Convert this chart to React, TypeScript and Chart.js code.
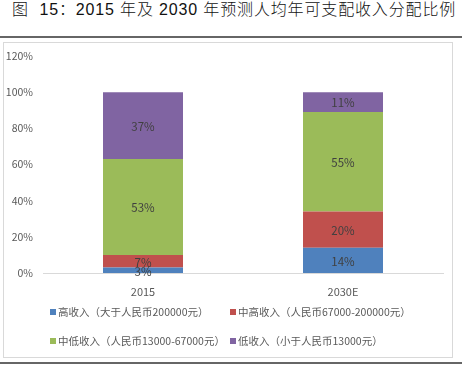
import React, { useEffect, useRef } from "react";
import { Chart, registerables } from "chart.js";

Chart.register(...registerables);

const categories = ["2015", "2030E"];
const seriesNames = [
  "高收入（大于人民币200000元）",
  "中高收入（人民币67000-200000元）",
  "中低收入（人民币13000-67000元）",
  "低收入（小于人民币13000元）",
];
const highIncome = [3, 14];
const upperMiddleIncome = [7, 20];
const lowerMiddleIncome = [53, 55];
const lowIncome = [37, 11];
const seriesColors = ["#4F81BD", "#C0504D", "#9BBB59", "#8064A2"];
const yTicks = [0, 20, 40, 60, 80, 100, 120];

const NARROW = '"Liberation Sans Narrow", "Noto Sans CJK SC", sans-serif';

const dataLabelPlugin = {
  id: "segLabels",
  afterDatasetsDraw(chart: any) {
    const ctx = chart.ctx;
    ctx.save();
    ctx.font = `11.5px ${NARROW}`;
    ctx.fillStyle = "#404040";
    ctx.textAlign = "center";
    ctx.textBaseline = "middle";
    chart.data.datasets.forEach((ds: any, i: number) => {
      const meta = chart.getDatasetMeta(i);
      meta.data.forEach((el: any, j: number) => {
        const v = ds.data[j];
        const y = (el.y + el.base) / 2;
        ctx.fillText(`${v}%`, el.x, y + 1);
      });
    });
    ctx.restore();
  },
};

const gridLegendPlugin = {
  id: "gridLegend",
  afterDraw(chart: any) {
    const ctx = chart.ctx;
    const area = chart.chartArea;
    const colX = [area.left + 7, area.left + 187];
    const rowY = [area.bottom + 39, area.bottom + 68];
    ctx.save();
    ctx.font = `10.5px ${NARROW}`;
    ctx.textAlign = "left";
    ctx.textBaseline = "middle";
    chart.data.datasets.forEach((ds: any, i: number) => {
      const x = colX[i % 2];
      const y = rowY[Math.floor(i / 2)];
      ctx.fillStyle = ds.backgroundColor;
      ctx.fillRect(x, y - 3, 6, 6);
      ctx.fillStyle = "#595959";
      ctx.fillText(ds.label, x + 8, y + 0.5);
    });
    ctx.restore();
  },
};

export default function App() {
  const canvasRef = useRef<HTMLCanvasElement | null>(null);

  useEffect(() => {
    if (!canvasRef.current) return;
    const values = [highIncome, upperMiddleIncome, lowerMiddleIncome, lowIncome];
    const chart = new Chart(canvasRef.current, {
      type: "bar",
      data: {
        labels: categories,
        datasets: values.map((d, i) => ({
          label: seriesNames[i],
          data: d,
          backgroundColor: seriesColors[i],
          borderWidth: 0,
          barPercentage: 0.4,
          categoryPercentage: 1.0,
        })),
      },
      options: {
        animation: false,
        responsive: false,
        maintainAspectRatio: false,
        layout: { padding: { left: 0, right: 9, top: 13, bottom: 54 } },
        plugins: {
          legend: { display: false },
          tooltip: { enabled: false },
          title: { display: false },
        },
        scales: {
          x: {
            stacked: true,
            grid: { display: false, drawTicks: false },
            border: { display: true, color: "#d9d9d9", width: 1 },
            ticks: {
              color: "#595959",
              font: { size: 11, family: NARROW },
              padding: 12,
            },
            afterFit: (s: any) => {
              s.height = 30;
            },
          },
          y: {
            stacked: true,
            min: 0,
            max: 120,
            afterBuildTicks: (s: any) => {
              s.ticks = yTicks.map((v) => ({ value: v }));
            },
            grid: { display: false, drawTicks: false },
            border: { display: false },
            ticks: {
              color: "#595959",
              font: { size: 10.5, family: NARROW },
              padding: 10,
              callback: (v: any) => `${v}%`,
            },
            afterFit: (s: any) => {
              s.width = 39;
              s.paddingTop = 0;
              s.paddingBottom = 0;
            },
          },
        },
      },
      plugins: [dataLabelPlugin, gridLegendPlugin],
    });
    return () => chart.destroy();
  }, []);

  return (
    <div
      style={{
        position: "absolute",
        left: 0,
        top: 0,
        width: 462,
        height: 379,
        background: "#fff",
        overflow: "hidden",
      }}
    >
      <div
        style={{
          position: "absolute",
          left: 12,
          top: 0,
          width: 450,
          whiteSpace: "pre",
          fontFamily: '"Liberation Sans", "Noto Sans CJK SC", sans-serif',
          fontSize: 16,
          fontWeight: 300,
          letterSpacing: "0.85px",
          lineHeight: "20px",
          color: "#111",
        }}
      >
        {"图  15：2015 年及 2030 年预测人均年可支配收入分配比例"}
      </div>
      <div
        style={{
          position: "absolute",
          left: 0,
          top: 36,
          width: 462,
          height: 2,
          background: "#666",
        }}
      />
      <div
        style={{
          position: "absolute",
          left: 3,
          top: 42,
          width: 450,
          height: 316,
          boxSizing: "border-box",
          border: "1px solid #d9d9d9",
        }}
      />
      <canvas
        ref={canvasRef}
        width={448}
        height={314}
        style={{ position: "absolute", left: 4, top: 43, width: 448, height: 314 }}
      />
      <div
        style={{
          position: "absolute",
          left: 0,
          top: 362,
          width: 462,
          height: 2,
          background: "#666",
        }}
      />
    </div>
  );
}
